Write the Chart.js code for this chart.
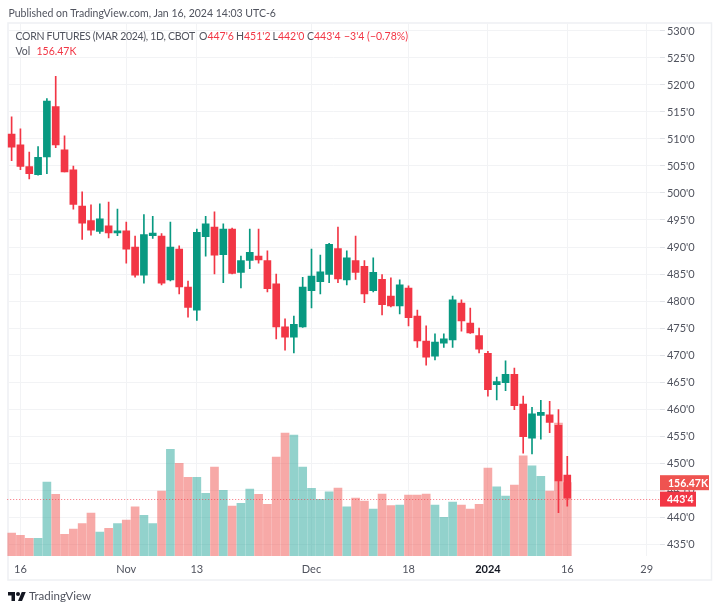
<!DOCTYPE html>
<html>
<head>
<meta charset="utf-8">
<title>Corn futures</title>
<script src="https://cdn.jsdelivr.net/npm/chart.js@4"></script>
<style>
    html, body { margin: 0; padding: 0; background: #fff; }
    body { width: 720px; height: 611px; position: relative; overflow: hidden; font-family: Lato, sans-serif; color: #50535e; }
    canvas { position: absolute; left: 0; top: 0; }
    .txt { position: absolute; white-space: nowrap; font-size: 10.5px; line-height: 14px; }
    .red { color: #f23645; }
    #logo { position: absolute; left: 8px; top: 590px; }
</style>
</head>
<body>
<canvas id="myChart" width="720" height="611"></canvas>

<div class="txt" style="left:8.5px;top:6px">Published on TradingView.com, Jan 16, 2024 14:03 UTC-6</div>
<div class="txt" style="left:15.5px;top:29px;letter-spacing:-0.3px">CORN FUTURES (MAR 2024), 1D, CBOT</div>
<div class="txt" style="left:199px;top:29px">O<span class="red">447'6</span></div>
<div class="txt" style="left:236px;top:29px">H<span class="red">451'2</span></div>
<div class="txt" style="left:272.5px;top:29px">L<span class="red">442'0</span></div>
<div class="txt" style="left:307px;top:29px">C<span class="red">443'4</span></div>
<div class="txt red" style="left:344px;top:29px">−3'4 (−0.78%)</div>
<div class="txt" style="left:15.5px;top:44px">Vol</div>
<div class="txt red" style="left:36.5px;top:44px">156.47K</div>

<svg id="logo" width="18" height="14" viewBox="0 0 36 28"><path fill="#131722" d="M14 22H7V11H0V4h14v18zM28 22h-8l7.5-18h8L28 22z"/><circle fill="#131722" cx="20" cy="8" r="4"/></svg>
<div class="txt" style="left:29px;top:589px;font-size:11.5px">TradingView</div>

<script>
const dates = ['Oct 13','Oct 16','Oct 17','Oct 18','Oct 19','Oct 20','Oct 23','Oct 24','Oct 25','Oct 26','Oct 27','Oct 30','Oct 31',
    'Nov 1','Nov 2','Nov 3','Nov 6','Nov 7','Nov 8','Nov 9','Nov 10','Nov 13','Nov 14','Nov 15','Nov 16','Nov 17','Nov 20','Nov 21','Nov 22','Nov 24','Nov 27','Nov 28','Nov 29','Nov 30',
    'Dec 1','Dec 4','Dec 5','Dec 6','Dec 7','Dec 8','Dec 11','Dec 12','Dec 13','Dec 14','Dec 15','Dec 18','Dec 19','Dec 20','Dec 21','Dec 22','Dec 26','Dec 27','Dec 28','Dec 29',
    'Jan 2','Jan 3','Jan 4','Jan 5','Jan 8','Jan 9','Jan 10','Jan 11','Jan 12','Jan 16',
    'Jan 17','Jan 18','Jan 19','Jan 22','Jan 23','Jan 24','Jan 25','Jan 26','Jan 29','Jan 30'];

const opens = [510.9,508.9,504.9,503.4,506.7,516,508,504.3,497.6,494.9,492.9,493.9,492.6,493,490,484.8,492.1,492,483.9,489.6,482.6,478.3,491.9,493.7,488.6,493.3,485.3,487.5,488.3,487.5,483.2,475.2,473.3,475.2,481.9,483.6,484.9,489.7,483.9,487.5,486.4,481.9,484,480.9,479.1,482.4,477.2,472.6,469.8,472.2,472.8,479.6,475.9,473.6,470.3,464.5,464.9,466.4,460.9,454.6,458.8,458.9,457,447.75];
const highs = [514.1,511.9,507.6,508.6,517.5,521.6,510.6,505,500.2,497.8,498,498.3,497,494.6,492,496,495.7,492.5,494.6,490.2,483.7,493.3,495.7,496.5,494.3,493.5,488.3,493.3,493.3,489.3,485,476.7,477.2,484.4,489.6,488.5,490.7,493.7,489.3,492,487.5,488,484.9,484.3,483.9,482.8,478.3,475.4,473.9,473.9,480.9,480.2,478.7,475,470.7,465.9,468.9,467.6,462.4,460.3,461.6,461.4,459.9,451.25];
const lows = [506,504.3,502.6,503.3,503.6,508.4,503.9,497,491.4,492.2,492.5,491.7,492.1,487,484.4,483.3,491.6,483,483.7,481.3,477,476.4,488.3,485,483.4,485,482.4,486,487,481.7,473,470.9,470.4,475.1,478.7,481.3,483.4,483.4,483,484,479.7,481.7,477.4,478.9,477.6,475.4,471.4,468.1,469.1,471.4,471.4,474.4,474,470.4,462.4,461.7,463.4,459.9,451.8,451.7,454.4,455.6,440.8,442];
const closes = [508.5,504.9,503.6,506.6,517,508.9,503.9,497.9,494.4,493.1,495.2,492.6,493,489.6,484.8,492.3,492.6,483.3,490,482.6,478.8,492.7,494.3,488.5,493.3,485.1,487.5,489,487.6,482.3,475.2,473.3,475.7,482.6,484.6,485.4,490.5,484.1,488,485.3,481.3,485.3,479.3,479.1,483,476.9,472.6,469.6,472.4,473,480.2,476.3,474.1,471.1,463.6,465.1,466.4,460.6,454.9,459.1,459.4,457.5,446.7,443.5];
const volumes = [49.1,44.1,37.7,37.7,157.8,131.5,46.2,57.6,69,91.7,51.2,59,69,76.8,105.2,86.7,69,138.6,227.5,197.7,167.8,167.8,133.7,189.8,140,106.7,112.3,142.9,131.5,110.2,211.2,262.4,258,189.8,144.3,120.9,137.2,145,105.2,123.7,117.3,100.3,132.2,107.4,108.8,130.1,130.1,132.2,108.8,82.5,115.2,108.8,100.3,110.2,187.7,147.9,128,151.4,214,192.7,169.9,138.6,283.9,156.47];

const priceTicks = [530,525,520,515,510,505,500,495,490,485,480,475,470,465,460,455,450,445,440,435];
const xTickDates = ['Oct 16','Nov 1','Nov 13','Dec 1','Dec 18','Jan 2','Jan 16','Jan 29'];
const xTickLabels = ['16','Nov','13','Dec','18','2024','16','29'];

const lastPrice = 443.5;
const lastPriceLabel = "443'4";
const lastVolume = 156.47;
const lastVolumeLabel = '156.47K';

const UP = '#089981';
const DOWN = '#f23645';
const GRID = '#f2f3f5';

const isUp = (i) => closes[i] >= opens[i];

const wicks = lows.map((l, i) => [l, highs[i]]);
const bodies = opens.map((o, i) => [o, closes[i]]);

// frame, last price line and the two badges on the price scale
const overlay = {
    id: 'overlay',
    beforeDraw(chart) {
        const c = chart.ctx;
        c.save();
        c.strokeStyle = '#eef0f3';
        c.lineWidth = 1.5;
        c.strokeRect(8, 23, 703.5, 557);
        c.restore();
    },
    afterDraw(chart) {
        const c = chart.ctx;
        const a = chart.chartArea;
        const py = chart.scales.y.getPixelForValue(lastPrice);
        const vy = chart.scales.y2.getPixelForValue(lastVolume);
        c.save();
        c.strokeStyle = DOWN;
        c.globalAlpha = 0.7;
        c.lineWidth = 1;
        c.setLineDash([1, 2]);
        c.beginPath();
        c.moveTo(a.left, Math.round(py) + 1.5);
        c.lineTo(a.right, Math.round(py) + 1.5);
        c.stroke();
        c.restore();

        c.save();
        c.font = 'bold 10.5px Lato, sans-serif';
        c.textBaseline = 'middle';
        c.fillStyle = '#ef5350';
        c.fillRect(660, vy - 7.5, 49, 15);
        c.fillStyle = DOWN;
        c.fillRect(660, py - 6.5, 36, 15);
        c.fillStyle = '#fff';
        c.fillText(lastVolumeLabel, 668, vy + 0.5);
        c.fillText(lastPriceLabel, 667, py + 1.5);
        c.restore();
    }
};

window.myChart = new Chart(document.getElementById('myChart'), {
    type: 'bar',
    data: {
        labels: dates,
        datasets: [
            {
                label: 'Wick',
                data: wicks,
                yAxisID: 'y',
                order: 2,
                barThickness: 1,
                backgroundColor: (ctx) => isUp(ctx.dataIndex) ? UP : DOWN
            },
            {
                label: 'Body',
                data: bodies,
                yAxisID: 'y',
                order: 1,
                barThickness: 7,
                minBarLength: 2,
                backgroundColor: (ctx) => isUp(ctx.dataIndex) ? UP : DOWN
            },
            {
                label: 'Vol',
                data: volumes,
                yAxisID: 'y2',
                order: 3,
                barThickness: 8,
                backgroundColor: (ctx) => isUp(ctx.dataIndex) ? 'rgba(38,166,154,0.5)' : 'rgba(239,83,80,0.5)'
            }
        ]
    },
    options: {
        responsive: false,
        animation: false,
        devicePixelRatio: 1,
        grouped: false,
        layout: { padding: { left: 7.2, top: 23, right: 0, bottom: 0 } },
        plugins: { legend: { display: false }, tooltip: { enabled: false } },
        scales: {
            x: {
                offset: true,
                grid: { offset: false, color: GRID, drawTicks: false },
                border: { display: false },
                ticks: {
                    autoSkip: false,
                    maxRotation: 0,
                    padding: 7,
                    color: (ctx) => ctx.tick.label === '2024' ? '#131722' : '#50535e',
                    font: (ctx) => ({ family: 'Lato, sans-serif', size: 11, weight: ctx.tick.label === '2024' ? 'bold' : 'normal' }),
                    callback: (v) => {
                        const k = xTickDates.indexOf(dates[v]);
                        return k < 0 ? '' : xTickLabels[k];
                    }
                },
                afterBuildTicks: (scale) => {
                    scale.ticks = xTickDates.map((d) => ({ value: dates.indexOf(d) }));
                },
                afterFit: (scale) => { scale.height = 55; }
            },
            y: {
                position: 'right',
                min: 432.78,
                max: 531.48,
                grid: { color: GRID, drawTicks: true, tickLength: 5, tickColor: '#dfe1e6' },
                border: { display: false },
                ticks: {
                    padding: 2,
                    color: '#50535e',
                    font: { family: 'Lato, sans-serif', size: 11 },
                    callback: (v) => v + "'0"
                },
                afterBuildTicks: (scale) => {
                    scale.ticks = priceTicks.map((v) => ({ value: v }));
                },
                afterFit: (scale) => { scale.width = 60.1; }
            },
            y2: {
                display: false,
                min: 0,
                max: 1137.7
            }
        }
    },
    plugins: [overlay]
});
</script>
</body>
</html>
